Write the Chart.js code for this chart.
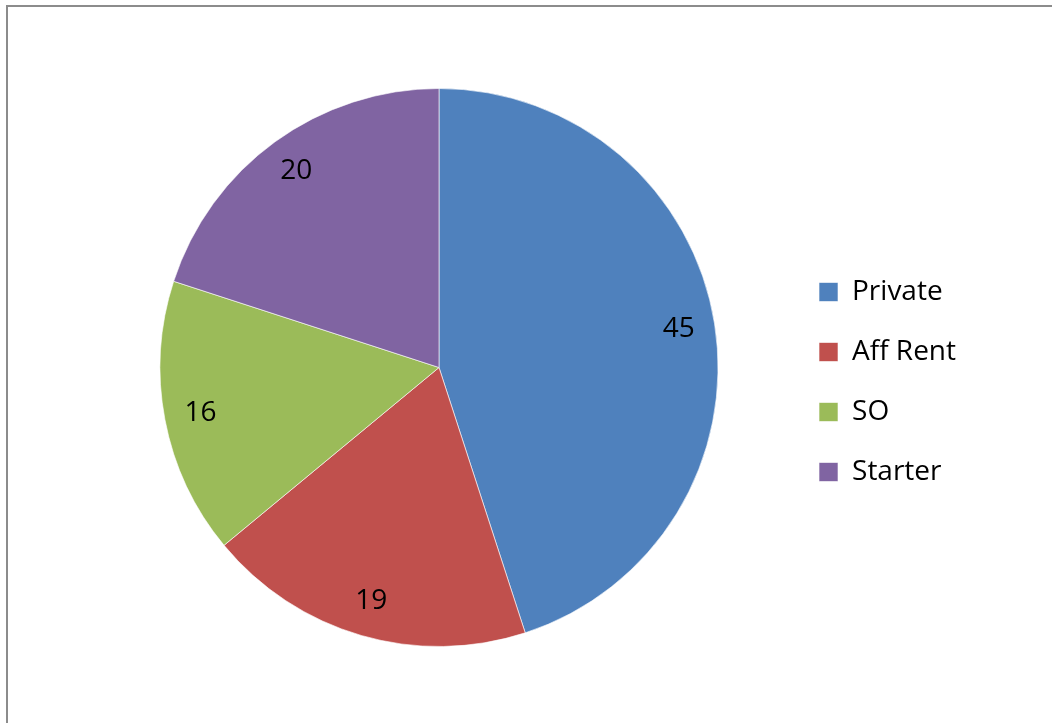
<!DOCTYPE html>
<html lang="en">
<head>
  <meta charset="UTF-8">
  <title>Housing mix</title>
  <script src="https://cdn.jsdelivr.net/npm/chart.js"></script>
  <style>
    html, body { margin: 0; padding: 0; background: #fff; }
    #wrap { position: relative; width: 1052px; height: 723px; overflow: hidden; }
    #frame { position: absolute; left: 6px; top: 5px; width: 1200px; height: 900px;
             border-left: 2px solid #8c8c8c; border-top: 2px solid #8c8c8c; }
    #grafico { position: absolute; left: 0; top: 0; }
  </style>
</head>
<body>
  <div id="wrap">
    <div id="frame"></div>
    <canvas id="grafico" width="1052" height="723"></canvas>
  </div>

  <script>
    // dados
    const categorias = ['Private', 'Aff Rent', 'SO', 'Starter'];
    const valores = [45, 19, 16, 20];
    const cores = ['#4F81BD', '#C0504D', '#9BBB59', '#8064A2'];

    const fonte = '"Open Sans", "Noto Sans", sans-serif';

    // rótulos dentro das fatias
    const rotulos = {
      id: 'rotulos',
      afterDatasetsDraw(chart) {
        const ctx = chart.ctx;
        const meta = chart.getDatasetMeta(0);
        ctx.save();
        ctx.font = '28px ' + fonte;
        ctx.fillStyle = '#000';
        ctx.textAlign = 'center';
        ctx.textBaseline = 'middle';
        meta.data.forEach((arc, i) => {
          const p = arc.getProps(['x', 'y', 'startAngle', 'endAngle', 'outerRadius'], true);
          const meio = (p.startAngle + p.endAngle) / 2;
          const r = p.outerRadius * 0.87;
          ctx.fillText(String(valores[i]), p.x + Math.cos(meio) * r, p.y + Math.sin(meio) * r);
        });
        ctx.restore();
      }
    };

    new Chart(document.getElementById('grafico'), {
      type: 'pie',
      data: {
        labels: categorias,
        datasets: [{
          data: valores,
          backgroundColor: cores,
          borderColor: 'rgba(255,255,255,0.6)',
          borderWidth: 1
        }]
      },
      options: {
        responsive: false,
        animation: false,
        layout: { padding: { left: 91, right: 86, top: 88, bottom: 76 } },
        plugins: {
          tooltip: { enabled: false },
          legend: {
            position: 'right',
            align: 'center',
            title: { display: true, text: '', font: { size: 10, lineHeight: 1 }, padding: { top: 19, bottom: 0 } },
            labels: {
              boxWidth: 19,
              boxHeight: 19,
              padding: 32,
              color: '#000',
              font: { family: fonte, size: 28 }
            }
          }
        }
      },
      plugins: [rotulos]
    });
  </script>
</body>
</html>
